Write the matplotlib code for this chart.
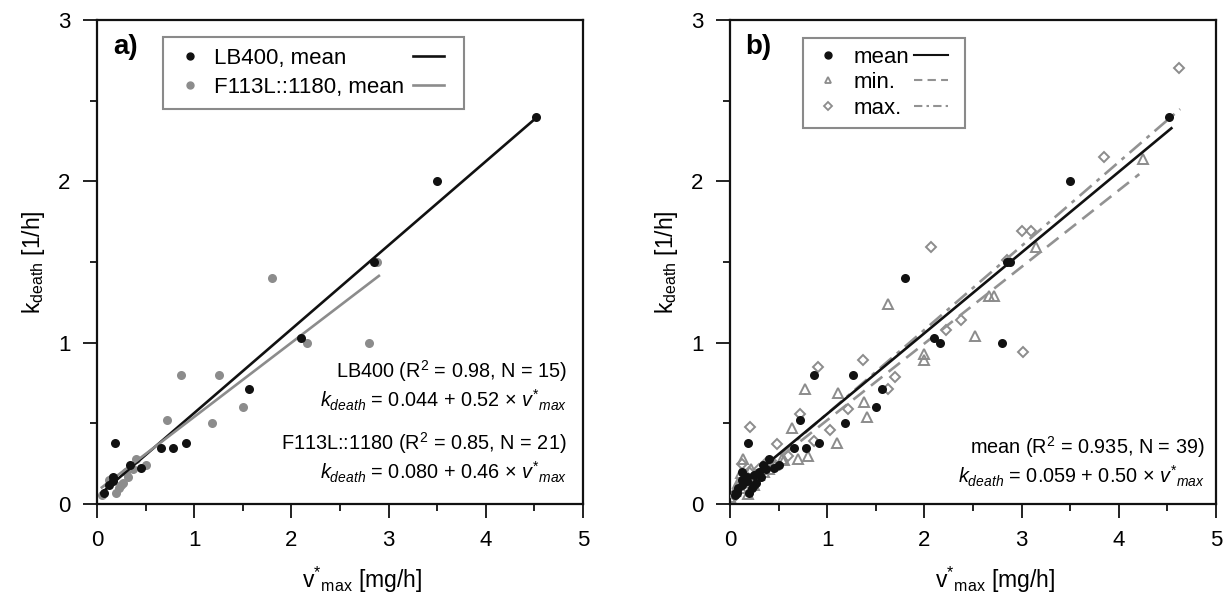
import numpy as np
import matplotlib
matplotlib.use("Agg")
import matplotlib.pyplot as plt
from matplotlib.lines import Line2D

REG = 'Liberation Sans'

plt.rcParams['font.family'] = [REG, 'DejaVu Sans']
plt.rcParams['mathtext.fontset'] = 'custom'
plt.rcParams['mathtext.rm'] = REG
plt.rcParams['mathtext.it'] = REG + ':italic'
plt.rcParams['mathtext.bf'] = REG + ':bold'

# ---------------- data: panel a ----------------
lb_x = [0.07, 0.12, 0.17, 0.19, 0.17, 0.34, 0.45, 0.66, 0.78, 0.915, 1.56, 2.10, 2.85, 3.50, 4.52]
lb_y = [0.07, 0.12, 0.17, 0.38, 0.14, 0.24, 0.225, 0.345, 0.345, 0.376, 0.715, 1.03, 1.50, 2.00, 2.40]

f1_x = [0.05, 0.12, 0.20, 0.23, 0.27, 0.32, 0.37, 0.40, 0.50, 0.15, 0.25, 0.72, 0.86, 1.18, 1.26, 1.50,
        1.80, 2.16, 2.80, 2.88, 0.30]
f1_y = [0.055, 0.15, 0.07, 0.10, 0.13, 0.17, 0.22, 0.28, 0.24, 0.16, 0.12, 0.52, 0.80, 0.50, 0.80, 0.60,
        1.40, 1.00, 1.00, 1.50, 0.20]

lb_fit = (0.044, 0.52)
lb_range = (0.05, 4.52)
f1_fit = (0.080, 0.46)
f1_range = (0.05, 2.90)

# ---------------- data: panel b ----------------
mean_extra_x = [0.08, 0.12, 0.25]
mean_extra_y = [0.10, 0.20, 0.18]

min_x = [0.00, 0.05, 0.08, 0.11, 0.13, 0.15, 0.18, 0.20, 0.22, 0.25, 0.30, 0.35, 0.40, 0.45, 0.53, 0.56,
         0.64, 0.70, 0.80, 0.77, 1.10, 1.11, 1.38, 1.41, 1.63, 2.00, 2.00, 2.52, 2.66, 2.72, 3.15, 4.25]
min_y = [0.045, 0.08, 0.13, 0.19, 0.28, 0.10, 0.06, 0.15, 0.22, 0.12, 0.18, 0.20, 0.22, 0.24, 0.28, 0.27,
         0.47, 0.28, 0.30, 0.71, 0.38, 0.69, 0.63, 0.54, 1.24, 0.93, 0.89, 1.04, 1.29, 1.29, 1.59, 2.14]

max_x = [0.05, 0.10, 0.12, 0.15, 0.17, 0.20, 0.21, 0.25, 0.30, 0.38, 0.48, 0.60, 0.72, 0.86, 0.90, 1.03,
         1.21, 1.37, 1.63, 1.70, 2.07, 2.22, 2.38, 2.85, 3.00, 3.10, 3.01, 3.85, 4.62]
max_y = [0.05, 0.12, 0.25, 0.18, 0.10, 0.20, 0.48, 0.15, 0.22, 0.26, 0.375, 0.30, 0.56, 0.39, 0.85, 0.46,
         0.59, 0.89, 0.71, 0.79, 1.59, 1.08, 1.14, 1.51, 1.69, 1.69, 0.94, 2.15, 2.70]

mean_fit = (0.059, 0.50)
mean_range = (0.03, 4.54)
min_fit = (0.045, 0.475)
min_range = (0.0, 4.21)
max_fit = (0.04, 0.52)
max_range = (0.0, 4.63)

BLACK = '#111111'
GRAY = '#8c8c8c'
LGRAY = '#929292'


def fit_line(coef, rng):
    xs = np.array(rng)
    return xs, coef[0] + coef[1] * xs


fig = plt.figure(figsize=(12.29, 5.95), dpi=100)
ax1 = fig.add_axes([0.0789, 0.1529, 0.3955, 0.8135])
ax2 = fig.add_axes([0.5940, 0.1529, 0.3955, 0.8135])


def style_axis(ax):
    ax.set_xlim(0, 5)
    ax.set_ylim(0, 3)
    ax.set_xticks([0, 1, 2, 3, 4, 5])
    ax.set_yticks([0, 1, 2, 3])
    ax.set_xticks(np.arange(0.5, 5, 1.0), minor=True)
    ax.set_yticks(np.arange(0.5, 3, 1.0), minor=True)
    ax.tick_params(which='major', direction='out', length=10, width=1.3, labelsize=16, pad=9, color=BLACK)
    ax.tick_params(which='minor', direction='out', length=5, width=1.3, color=BLACK)
    for sp in ax.spines.values():
        sp.set_linewidth(1.6)
        sp.set_color(BLACK)
    ax.set_xlabel(r'$\mathrm{v^{*}{}_{max}}$ [mg/h]', fontsize=16.5, labelpad=4)
    ax.set_ylabel(r'$\mathrm{k_{death}}$ [1/h]', fontsize=16.5, labelpad=8)
    ax.xaxis.set_label_coords(0.545, -0.125)


# ---------------- panel a ----------------
style_axis(ax1)
x, y = fit_line(lb_fit, lb_range)
ax1.plot(x, y, color=BLACK, lw=1.9, zorder=3)
x, y = fit_line(f1_fit, f1_range)
ax1.plot(x, y, color=GRAY, lw=1.9, zorder=3)
ax1.plot(f1_x, f1_y, 'o', color=GRAY, ms=6.5, mec='none', zorder=2)
ax1.plot(lb_x, lb_y, 'o', color=BLACK, ms=6.5, mec='none', zorder=4)

h = [Line2D([], [], ls='none', marker='o', color=BLACK, ms=5),
     Line2D([], [], ls='none', marker='o', color=GRAY, ms=5),
     Line2D([], [], color=BLACK, lw=1.9),
     Line2D([], [], color=GRAY, lw=1.9)]
leg = ax1.legend(h, ['LB400, mean', 'F113L::1180, mean', '', ''], ncol=2, loc='upper left',
                 bbox_to_anchor=(0.136, 0.965), borderaxespad=0, fontsize=16, frameon=True,
                 fancybox=False, edgecolor='#8a8a8a', framealpha=1, handlelength=1.4,
                 handletextpad=0.4, columnspacing=0.4, labelspacing=0.35, borderpad=0.5)
leg.get_frame().set_linewidth(1.5)

ax1.text(0.033, 0.944, 'a)', transform=ax1.transAxes, fontsize=20, fontweight='bold',
         ha='left', va='center')

txt_kw = dict(transform=ax1.transAxes, ha='right', va='center', fontsize=14.3)
ax1.text(0.967, (504 - 371) / 484, 'LB400 (R$^{2}$ = 0.98, N = 15)', **txt_kw)
ax1.text(0.967, (504 - 400) / 484, '$k_{death}$ = 0.044 + 0.52 × $v^{*}{}_{max}$', **txt_kw)
ax1.text(0.967, (504 - 443) / 484, 'F113L::1180 (R$^{2}$ = 0.85, N = 21)', **txt_kw)
ax1.text(0.967, (504 - 472) / 484, '$k_{death}$ = 0.080 + 0.46 × $v^{*}{}_{max}$', **txt_kw)

# ---------------- panel b ----------------
style_axis(ax2)
mean_x = lb_x + f1_x + mean_extra_x
mean_y = lb_y + f1_y + mean_extra_y

x, y = fit_line(max_fit, max_range)
ax2.plot(x, y, color=LGRAY, lw=1.9, dashes=(6, 2.5, 1.5, 2.5), zorder=3)
x, y = fit_line(min_fit, min_range)
ax2.plot(x, y, color=LGRAY, lw=1.9, dashes=(5.5, 3), zorder=3)
x, y = fit_line(mean_fit, mean_range)
ax2.plot(x, y, color=BLACK, lw=1.9, zorder=4)

ax2.plot(min_x, min_y, '^', ms=7, mfc='none', mec=GRAY, mew=1.4, zorder=2)
ax2.plot(max_x, max_y, 'D', ms=5.5, mfc='none', mec=GRAY, mew=1.4, zorder=2)
ax2.plot(mean_x, mean_y, 'o', color=BLACK, ms=6.5, mec='none', zorder=5)

h2 = [Line2D([], [], ls='none', marker='o', color=BLACK, ms=5),
      Line2D([], [], ls='none', marker='^', ms=5, mfc='none', mec=GRAY, mew=1.3),
      Line2D([], [], ls='none', marker='D', ms=4, mfc='none', mec=GRAY, mew=1.3),
      Line2D([], [], color=BLACK, lw=1.5),
      Line2D([], [], color=LGRAY, lw=1.5, dashes=(4, 2.5)),
      Line2D([], [], color=LGRAY, lw=1.5, dashes=(4, 2, 1.2, 2))]
leg2 = ax2.legend(h2, ['mean', 'min.', 'max.', '', '', ''], ncol=2, loc='upper left',
                  bbox_to_anchor=(0.15, 0.963), borderaxespad=0, fontsize=16, frameon=True,
                  fancybox=False, edgecolor='#8a8a8a', framealpha=1, handlelength=1.5,
                  handletextpad=0.4, columnspacing=0.2, labelspacing=0.2, borderpad=0.4)
leg2.get_frame().set_linewidth(1.5)

ax2.text(0.031, 0.944, 'b)', transform=ax2.transAxes, fontsize=20, fontweight='bold',
         ha='left', va='center')
txt_kw2 = dict(transform=ax2.transAxes, ha='right', va='center', fontsize=14.3)
ax2.text(0.977, (504 - 447) / 484, 'mean (R$^{2}$ = 0.935, N = 39)', **txt_kw2)
ax2.text(0.977, (504 - 476) / 484, '$k_{death}$ = 0.059 + 0.50 × $v^{*}{}_{max}$', **txt_kw2)

fig.savefig('out.png', dpi=100)
